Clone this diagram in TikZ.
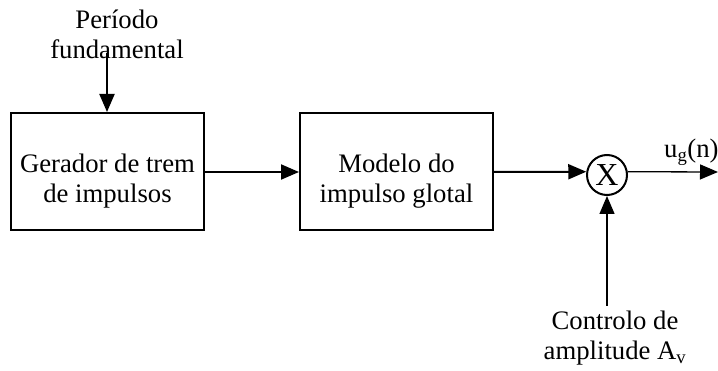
\documentclass[tikz,border=0pt]{standalone}
\usepackage{fontspec}
\setmainfont{Liberation Serif}
\usetikzlibrary{arrows.meta}
\begin{document}
\begin{tikzpicture}[x=1pt,y=-1pt,
    every node/.style={font=\fontsize{26.7}{30}\selectfont, inner sep=0pt},
    block/.style={draw, line width=2pt, minimum width=193pt, minimum height=117pt},
    txt/.style={align=center},
    sum/.style={draw, circle, line width=2pt, minimum size=40pt, font=\fontsize{32}{34}\selectfont},
    sig/.style={line width=2pt, -{Triangle[length=18pt,width=15pt]}},
    thin sig/.style={line width=1.3pt, -{Triangle[length=18pt,width=15pt]}}]
  \useasboundingbox (0,0) rectangle (718,371);

  % blocks
  \node[block] (gen) at (107.5,171.5) {};
  \node[txt] (gentxt) at (107.5,181) {Gerador de trem\\de impulsos};
  \node[block] (mod) at (396.5,171.5) {};
  \node[txt] (modtxt) at (396.5,181) {Modelo do\\impulso glotal};

  % multiplier
  \node[sum] (mult) at (607,175) {X};

  % input label
  \node[txt] (per) at (117,34) {Período\\fundamental};
  \coordinate (pertop) at (107,53);

  % gain control
  \node[txt] (ctl) at (615,338) {Controlo de\\amplitude A\textsubscript{v}};
  \coordinate (ctltop) at (607,306);

  % output
  \coordinate (out) at (718,172);
  \node[anchor=base west] (outlbl) at (664,158) {u\textsubscript{g}(n)};

  % connectors
  \draw[sig] (pertop) -- (pertop |- gen.north);
  \draw[sig] (gen.east |- 0,172) -- (mod.west |- 0,172);
  \draw[sig] (mod.east |- 0,172) -- (mult.171);
  \draw[thin sig] (mult.9) -- (out);
  \draw[thin sig] (ctltop) -- (mult.south);
\end{tikzpicture}
\end{document}
